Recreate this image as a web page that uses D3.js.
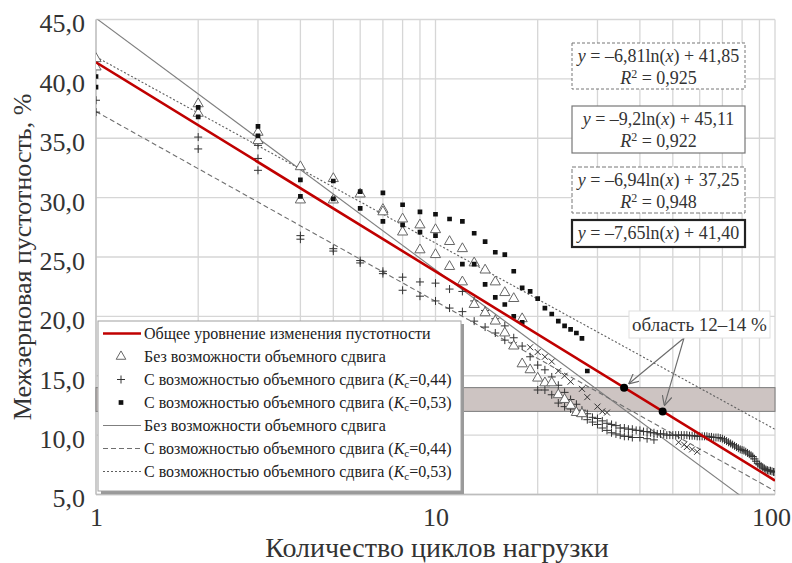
<!DOCTYPE html>
<html lang="ru">
<head>
<meta charset="UTF-8">
<title>Межзерновая пустотность</title>
<script src="https://cdn.jsdelivr.net/npm/d3@7"></script>
<style>
  body { margin: 0; background: #fff; }
</style>
</head>
<body>
<div id="chart"></div>
<script>
// axes
const xTicks = [1, 10, 100];
const yTicks = [5, 10, 15, 20, 25, 30, 35, 40, 45];
const xGrid = [1, 2, 3, 4, 5, 6, 7, 8, 9, 10, 20, 30, 40, 50, 60, 70, 80, 90, 100];
const zone = [12, 14];

// trend lines: y = a ln(x) + b
const fitKeys = ["all", "tri", "plus", "sq"];
const fitA = [-7.65, -9.2, -6.94, -6.81];
const fitB = [41.40, 45.11, 37.25, 41.85];
const fitR2 = [null, "0,922", "0,948", "0,925"];

// measured points [cycles, voids %]
const triPts = [
  [1,41.7],[1,41.0],[2,37.9],[2,37.1],[3,35.5],[3,34.8],[4,32.6],[4,29.8],[5,31.6],[5,29.8],
  [6,30.3],[7,29.0],[7,28.8],[8,28.2],[8,27.1],[9,27.7],[9,25.6],[10,27.3],[10,25.2],
  [11,26.3],[11,24.2],[12,25.7],[12,22.9],[13,24.5],[13,21.0],[14,23.9],[14,20.3],
  [15,22.9],[15,19.6],[16,22.0],[16,18.6],[17,21.5],[17,17.5],[18,19.8],[18,16.0],
  [19,15.5],[20,14.8],[21,14.4],[22,14.4],[23,13.4],[24,13.0],[25,12.5],[26,11.9],[27,11.8]
];
const sqPts = [
  [1,40.2],[1,39.3],[2,37.6],[2,36.8],[3,36.0],[3,35.2],[4,31.5],[4,30.1],[5,31.4],[5,29.9],
  [6,30.5],[6,29.1],[7,30.4],[7,28.0],[8,29.4],[8,27.7],[9,28.8],[9,27.1],[10,28.6],[10,26.8],
  [11,28.2],[12,28.0],[12,24.4],[13,27.0],[13,24.4],[14,26.3],[14,22.7],[15,25.4],[15,21.6],
  [16,25.2],[16,21.0],[17,23.8],[17,20.0],[18,22.4],[18,19.5],[19,22.1],[20,21.5],[21,20.7],
  [22,20.2],[23,19.6],[24,19.2],[25,18.9],[26,18.6],[27,18.15],[28,15.4]
];
const plusPts = [
  [1,38.2],[1,37.2],[2,35.1],[2,34.1],[3,34.4],[3,33.3],[3,32.3],[4,26.8],[4,26.5],[5,25.7],[5,25.5],
  [6,24.7],[6,24.5],[7,23.8],[7,23.6],[8,23.3],[8,22.2],[9,22.9],[9,21.7],[10,22.8],[10,21.3],
  [11,22.3],[11,20.7],[12,22.1],[12,20.4],[13,21.3],[13,19.6],[14,20.5],[14,19.1],[15,19.8],[15,18.6],
  [16,19.2],[16,18.0],[17,18.2],[18,17.5],[19,16.6],[20,15.9],[20,13.8],[21,15.5],[21,13.8],
  [22,14.9],[22,13.4],[23,14.2],[23,12.7],[24,13.6],[24,12.4],[25,13.0],[25,12.2],[26,12.6],[26,11.9],
  [27,12.1],[27,11.6],[28,11.8],[28,11.3],[29,11.5],[29,11.1],[30,11.4],[30,10.9],[31,11.2],[31,10.6],
  [32,11.0],[32,10.4],[33,10.9],[33,10.2],[34,10.8],[34,10.1],[35,10.6],[35,10.0],[36,10.6],[36,9.9],
  [37,10.5],[37,9.9],[38,10.5],[38,9.8],[39,10.4],[40,10.4],[40,9.8],[41,10.3],[42,10.3],[42,9.7],
  [43,10.2],[44,10.2],[44,9.6],[45,10.1],[46,10.1],[47,10.1],[48,10.0],[49,10.0],[50,10.0],[51,10.0],
  [52,10.0],[53,10.0],[54,10.0],[55,10.0],[56,9.95],[57,9.95],[58,9.95],[59,9.9],[60,9.9],[61,9.9],
  [62,9.9],[63,9.9],[64,9.85],[65,9.85],[66,9.8],[67,9.8],[68,9.8],[69,9.75],[70,9.7],[71,9.6],
  [72,9.5],[73,9.4],[74,9.3],[75,9.2],[76,9.1],[77,9.0],[78,8.9],[79,8.8],[80,8.75],[81,8.7],
  [82,8.6],[83,8.5],[84,8.4],[85,8.3],[86,8.2],[87,8.0],[88,7.8],[89,7.6],[90,7.5],[91,7.4],
  [92,7.3],[93,7.2],[94,7.1],[95,7.05],[96,7.0],[97,7.0],[98,6.95],[99,6.9],[100,6.9]
];
const crossPts = [
  [17,17.6],[19,17.4],[20,17.0],[21,16.6],[22,16.2],[23,15.4],[24,15.0],[25,14.5],[27,13.9],
  [28,13.2],[30,12.4],[31,12.0],[32,11.9],[52,9.4],[54,9.2],[55,9.0],[57,8.8],[59,8.6]
];

const legendLabels = [
  "Общее уровнение изменения пустотности",
  "Без возможности объемного сдвига",
  "С возможностью объемного сдвига (|0,44)",
  "С возможностью объемного сдвига (|0,53)",
  "Без возможности объемного сдвига",
  "С возможностью объемного сдвига (|0,44)",
  "С возможностью объемного сдвига (|0,53)"
];
const zoneLabel = "область 12–14 %";
const xTitle = "Количество циклов нагрузки";
const yTitle = "Межзерновая пустотность, %";

const W = 792, H = 563;
const FONT = '"Liberation Serif", "Times New Roman", serif';
const svg = d3.select("#chart").append("svg").attr("width", W).attr("height", H)
  .style("font-family", FONT);

const x = d3.scaleLog().domain([1, 100]).range([96, 775]);
const y = d3.scaleLinear().domain([5, 45]).range([494.5, 19.5]);
const comma = d => d3.format(".1f")(d).replace(".", ",");

svg.append("defs").append("clipPath").attr("id", "plot")
  .append("rect").attr("x", 96).attr("y", 19.5).attr("width", 679).attr("height", 475);

// grid
svg.append("g").selectAll("line").data(xGrid).join("line")
  .attr("x1", d => x(d)).attr("x2", d => x(d)).attr("y1", y(45)).attr("y2", y(5))
  .attr("stroke", "#d6d6d6").attr("stroke-width", 1.3);
svg.append("g").selectAll("line").data(yTicks).join("line")
  .attr("x1", x(1)).attr("x2", x(100)).attr("y1", d => y(d)).attr("y2", d => y(d))
  .attr("stroke", "#d6d6d6").attr("stroke-width", 1.3);
svg.append("line").attr("x1", x(1)).attr("x2", x(1)).attr("y1", y(45)).attr("y2", y(5))
  .attr("stroke", "#bdbdbd").attr("stroke-width", 1.3);
svg.append("line").attr("x1", x(1)).attr("x2", x(100)).attr("y1", y(5)).attr("y2", y(5))
  .attr("stroke", "#bdbdbd").attr("stroke-width", 1.3);

// 12-14 % band
svg.append("rect").attr("x", x(1)).attr("width", x(100) - x(1))
  .attr("y", y(zone[1])).attr("height", y(zone[0]) - y(zone[1]))
  .attr("fill", "#cdc4c2").attr("stroke", "#7a7a7a").attr("stroke-width", 1);

// axes labels
const yAxis = svg.append("g").attr("transform", "translate(96,0)")
  .call(d3.axisLeft(y).tickValues(yTicks).tickFormat(comma).tickSize(0).tickPadding(11));
const xAxis = svg.append("g").attr("transform", "translate(0,494.5)")
  .call(d3.axisBottom(x).tickValues(xTicks).tickFormat(d3.format("d")).tickSize(0).tickPadding(13));
[yAxis, xAxis].forEach(a => {
  a.select(".domain").remove();
  a.attr("font-family", null).attr("font-size", null);
  a.selectAll("text").style("font-family", FONT).style("font-size", "26px").attr("fill", "#333");
});
yAxis.selectAll("text").attr("dy", "0.48em");
xAxis.selectAll("text").filter(d => d === 100).attr("dx", -4);

svg.append("text").attr("x", 437).attr("y", 557).attr("text-anchor", "middle")
  .style("font-size", "28px").attr("fill", "#333").text(xTitle);
svg.append("text").attr("transform", "translate(31,257) rotate(-90)").attr("text-anchor", "middle")
  .style("font-size", "26px").attr("fill", "#333").text(yTitle);

// trend lines
const fitStyle = {
  all: { stroke: "#c00000", width: 2.6, dash: null },
  tri: { stroke: "#7f7f7f", width: 1.1, dash: null },
  plus: { stroke: "#6f6f6f", width: 1.1, dash: "5,3" },
  sq: { stroke: "#5f5f5f", width: 1.1, dash: "2,2" }
};
const fitLine = (a, b) => d3.line().x(d => x(d)).y(d => y(a * Math.log(d) + b))([1, 100]);
const plot = svg.append("g").attr("clip-path", "url(#plot)");
const fits = plot.append("g");
[1, 2, 3].forEach(i => {
  const s = fitStyle[fitKeys[i]];
  fits.append("path").attr("d", fitLine(fitA[i], fitB[i])).attr("fill", "none")
    .attr("stroke", s.stroke).attr("stroke-width", s.width).attr("stroke-dasharray", s.dash);
});

// markers
const plusPath = "M-4,0H4M0,-4V4";
const crossPath = "M-3,-3L3,3M-3,3L3,-3";
plot.append("g").selectAll("path").data(plusPts).join("path")
  .attr("transform", d => `translate(${x(d[0])},${y(d[1])})`)
  .attr("d", plusPath).attr("stroke", "#333").attr("stroke-width", 1);
plot.append("g").selectAll("path").data(crossPts).join("path")
  .attr("transform", d => `translate(${x(d[0])},${y(d[1])})`)
  .attr("d", crossPath).attr("stroke", "#333").attr("stroke-width", 1);
plot.append("g").selectAll("path").data(triPts).join("path")
  .attr("transform", d => `translate(${x(d[0])},${y(d[1])})`)
  .attr("d", d3.symbol(d3.symbolTriangle, 45)).attr("fill", "#fff").attr("stroke", "#666").attr("stroke-width", 1);
plot.append("g").selectAll("path").data(sqPts).join("path")
  .attr("transform", d => `translate(${x(d[0])},${y(d[1])})`)
  .attr("d", d3.symbol(d3.symbolSquare, 22)).attr("fill", "#111");

// general trend (red)
plot.append("path").attr("d", fitLine(fitA[0], fitB[0])).attr("fill", "none")
  .attr("stroke", fitStyle.all.stroke).attr("stroke-width", fitStyle.all.width);

// 12-14 % crossing points
const zoneX = zone.map(v => Math.exp((v - fitB[0]) / fitA[0]));
svg.append("defs").append("marker").attr("id", "arr").attr("viewBox", "0 0 10 10")
  .attr("refX", 10).attr("refY", 5).attr("markerWidth", 9).attr("markerHeight", 9).attr("orient", "auto")
  .append("path").attr("d", "M0,0L10,5L0,10").attr("fill", "none").attr("stroke", "#6a6a6a").attr("stroke-width", 1.2);
const ax0 = 684, ay0 = 338;
zone.forEach((v, i) => {
  const px = x(zoneX[i]), py = y(v);
  const dx = px - ax0, dy = py - ay0, len = Math.hypot(dx, dy);
  svg.append("line").attr("x1", ax0).attr("y1", ay0)
    .attr("x2", ax0 + dx * (len - 6) / len).attr("y2", ay0 + dy * (len - 6) / len)
    .attr("stroke", "#6a6a6a").attr("stroke-width", 1.1).attr("marker-end", "url(#arr)");
});
svg.append("g").selectAll("circle").data(zone).join("circle")
  .attr("cx", (d, i) => x(zoneX[i])).attr("cy", d => y(d)).attr("r", 4).attr("fill", "#000");
svg.append("rect").attr("x", 629).attr("y", 311).attr("width", 141).attr("height", 27)
  .attr("fill", "#fff").attr("stroke", "#e0e0e0");
svg.append("text").attr("x", 699.5).attr("y", 330.5).attr("text-anchor", "middle")
  .style("font-size", "19px").attr("fill", "#333").text(zoneLabel);

// legend
const lg = svg.append("g").attr("transform", "translate(98,321)");
lg.append("rect").attr("x", 3).attr("y", 3).attr("width", 363).attr("height", 170).attr("fill", "#9a9a9a");
lg.append("rect").attr("width", 363).attr("height", 170).attr("fill", "#fff").attr("stroke", "#a0a0a0");
const rowY = i => 12.5 + i * 23;
const lineKeys = ["all", null, null, null, "tri", "plus", "sq"];
legendLabels.forEach((lab, i) => {
  const ry = rowY(i);
  if (lineKeys[i]) {
    const s = fitStyle[lineKeys[i]];
    lg.append("line").attr("x1", 5).attr("x2", 43).attr("y1", ry).attr("y2", ry)
      .attr("stroke", s.stroke).attr("stroke-width", s.width).attr("stroke-dasharray", s.dash);
  } else if (i === 1) {
    lg.append("path").attr("transform", `translate(23,${ry})`).attr("d", d3.symbol(d3.symbolTriangle, 40))
      .attr("fill", "#fff").attr("stroke", "#666");
  } else if (i === 2) {
    lg.append("path").attr("transform", `translate(23,${ry})`).attr("d", plusPath).attr("stroke", "#333");
  } else {
    lg.append("path").attr("transform", `translate(23,${ry})`).attr("d", d3.symbol(d3.symbolSquare, 22)).attr("fill", "#111");
  }
  const t = lg.append("text").attr("x", 46).attr("y", ry + 5).style("font-size", "16px").attr("fill", "#222");
  const parts = lab.split("|");
  t.append("tspan").text(parts[0]);
  if (parts.length > 1) {
    t.append("tspan").attr("font-style", "italic").text("K");
    t.append("tspan").style("font-size", "11px").attr("dy", 3).text("c");
    t.append("tspan").attr("dy", -3).text("=" + parts[1]);
  }
});

// equation boxes
const fmt2 = v => String(Math.abs(v)).replace(".", ",");
const eqBoxes = [
  { i: 3, y0: 43, h: 46, dash: "3,2", sw: 1, col: "#777" },
  { i: 1, y0: 106, h: 47, dash: null, sw: 1.2, col: "#777" },
  { i: 2, y0: 167, h: 46, dash: "4,2", sw: 1, col: "#777" },
  { i: 0, y0: 220, h: 27, dash: null, sw: 2.2, col: "#222" }
];
eqBoxes.forEach(bx => {
  svg.append("rect").attr("x", 572).attr("y", bx.y0).attr("width", 173).attr("height", bx.h)
    .attr("fill", "#fff").attr("stroke", bx.col).attr("stroke-width", bx.sw).attr("stroke-dasharray", bx.dash);
  const t = svg.append("text").attr("x", 658.5).attr("y", bx.y0 + 19).attr("text-anchor", "middle")
    .style("font-size", "18px").attr("fill", "#333");
  const b = fitB[bx.i].toFixed(2).replace(".", ",");
  t.append("tspan").attr("font-style", "italic").text("y");
  t.append("tspan").text(" = –" + fmt2(fitA[bx.i]) + "ln(");
  t.append("tspan").attr("font-style", "italic").text("x");
  t.append("tspan").text(") + " + b);
  if (fitR2[bx.i]) {
    const r = svg.append("text").attr("x", 658.5).attr("y", bx.y0 + 40.5).attr("text-anchor", "middle")
      .style("font-size", "18px").attr("fill", "#333");
    r.append("tspan").attr("font-style", "italic").text("R");
    r.append("tspan").style("font-size", "12px").attr("dy", -6).text("2");
    r.append("tspan").attr("dy", 6).text(" = " + fitR2[bx.i]);
  }
});
</script>
</body>
</html>
